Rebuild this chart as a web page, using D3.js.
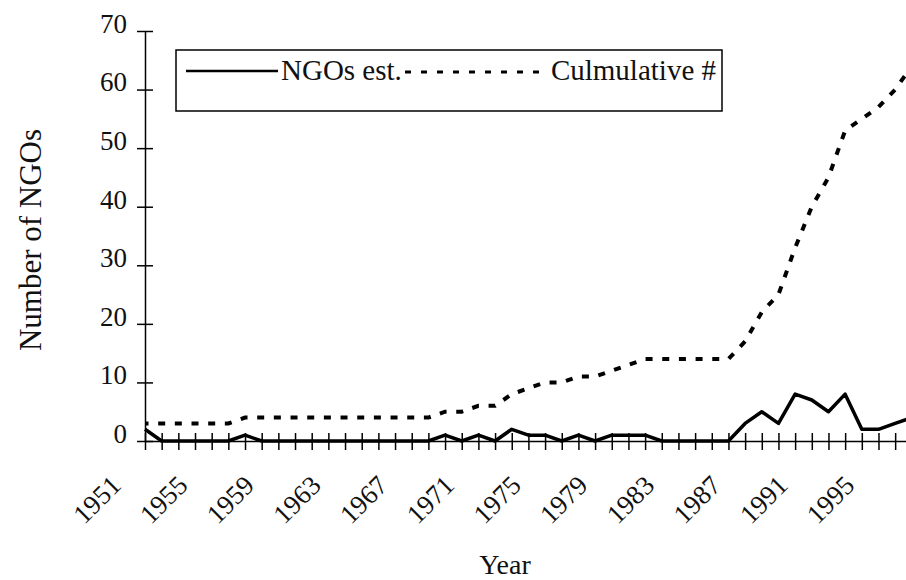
<!DOCTYPE html>
<html>
<head>
<meta charset="utf-8">
<script src="https://cdn.jsdelivr.net/npm/d3@7"></script>
<style>
  body { margin: 0; background: #fff; }
  svg { display: block; }
</style>
</head>
<body>
<svg id="chart" width="906" height="580"></svg>
<script>
// one point per year, 1951 .. 1997 (the last year is cut off by the frame)
var years = [1951, 1952, 1953, 1954, 1955, 1956, 1957, 1958, 1959, 1960,
             1961, 1962, 1963, 1964, 1965, 1966, 1967, 1968, 1969, 1970,
             1971, 1972, 1973, 1974, 1975, 1976, 1977, 1978, 1979, 1980,
             1981, 1982, 1983, 1984, 1985, 1986, 1987, 1988, 1989, 1990,
             1991, 1992, 1993, 1994, 1995, 1996, 1997];
var ngosEst = [2, 0, 0, 0, 0, 0, 1, 0, 0, 0,
               0, 0, 0, 0, 0, 0, 0, 0, 1, 0,
               1, 0, 2, 1, 1, 0, 1, 0, 1, 1,
               1, 0, 0, 0, 0, 0, 3, 5, 3, 8,
               7, 5, 8, 2, 2, 3, 4];
var cumulative = [3, 3, 3, 3, 3, 3, 4, 4, 4, 4,
                  4, 4, 4, 4, 4, 4, 4, 4, 5, 5,
                  6, 6, 8, 9, 10, 10, 11, 11, 12, 13,
                  14, 14, 14, 14, 14, 14, 17, 22, 25, 33,
                  40, 45, 53, 55, 57, 60, 64];
var labelYears = [1951, 1955, 1959, 1963, 1967, 1971, 1975, 1979, 1983, 1987, 1991, 1995];
var yTicks = [0, 10, 20, 30, 40, 50, 60, 70];
var seriesNames = ["NGOs est.", "Culmulative #"];

var serif = "Liberation Serif";

var svg = d3.select("#chart");
svg.append("rect").attr("width", 906).attr("height", 580).attr("fill", "#fff");

var x = d3.scaleLinear().domain([1951, 1997]).range([145, 145 + 46 * 16.67]);
var y = d3.scaleLinear().domain([0, 70]).range([441, 31]);

// y axis, ticks cross the line
var yAxis = svg.append("g")
    .attr("transform", "translate(145,0)")
    .call(d3.axisLeft(y).tickValues(yTicks).tickSize(8).tickSizeOuter(0).tickPadding(10));
yAxis.select(".domain").attr("stroke", "#000").attr("stroke-width", 1.5);
yAxis.selectAll(".tick line").attr("x1", 8).attr("stroke-width", 1.5);
yAxis.selectAll(".tick text")
    .style("font-family", serif)
    .style("font-size", "27px")
    .attr("fill", "#111")
    .attr("dy", "0.05em");

// x axis, a tick every year, a label every 4th year
var xAxis = svg.append("g")
    .attr("transform", "translate(0," + y(0) + ")")
    .call(d3.axisBottom(x).tickValues(years).tickSize(9).tickSizeOuter(0)
        .tickFormat(function (d) { return labelYears.indexOf(d) >= 0 ? d : ""; }));
xAxis.select(".domain").attr("stroke", "#000").attr("stroke-width", 1.5);
xAxis.selectAll(".tick line").attr("y1", -8).attr("stroke-width", 1.5);
xAxis.selectAll(".tick text")
    .style("font-family", serif)
    .style("font-size", "27px")
    .attr("fill", "#111")
    .attr("x", 0).attr("y", 0).attr("dy", 0)
    .attr("text-anchor", "end")
    .attr("transform", "translate(-23,46) rotate(-45)");

// lines
var line = d3.line()
    .x(function (d, i) { return x(years[i]); })
    .y(function (d) { return y(d); });

svg.append("path")
    .datum(cumulative)
    .attr("d", line)
    .attr("fill", "none")
    .attr("stroke", "#000")
    .attr("stroke-width", 4)
    .attr("stroke-dasharray", "7,9.67")
    .attr("stroke-dashoffset", 3.5);

svg.append("path")
    .datum(ngosEst)
    .attr("d", line)
    .attr("fill", "none")
    .attr("stroke", "#000")
    .attr("stroke-width", 3.5)
    .attr("stroke-linejoin", "round");

// axis titles
svg.append("text")
    .attr("transform", "translate(41,240) rotate(-90)")
    .attr("text-anchor", "middle")
    .style("font-family", serif)
    .style("font-size", "31px")
    .attr("fill", "#111")
    .text("Number of NGOs");

svg.append("text")
    .attr("x", 505).attr("y", 574)
    .attr("text-anchor", "middle")
    .style("font-family", serif)
    .style("font-size", "28px")
    .attr("fill", "#111")
    .text("Year");

// legend
var legend = svg.append("g");
legend.append("rect")
    .attr("x", 176).attr("y", 50).attr("width", 546).attr("height", 61)
    .attr("fill", "#fff").attr("stroke", "#000").attr("stroke-width", 1.5);
legend.append("line")
    .attr("x1", 186).attr("x2", 278).attr("y1", 71).attr("y2", 71)
    .attr("stroke", "#000").attr("stroke-width", 2.5);
legend.append("text")
    .attr("x", 281).attr("y", 80)
    .style("font-family", serif)
    .style("font-size", "29px")
    .attr("fill", "#111")
    .text(seriesNames[0]);
var cumText = legend.append("text")
    .attr("x", 716).attr("y", 80)
    .attr("text-anchor", "end")
    .style("font-family", serif)
    .style("font-size", "29px")
    .attr("fill", "#111")
    .text(seriesNames[1]);
var cumStart = 716 - cumText.node().getComputedTextLength();
legend.append("line")
    .attr("x1", 405).attr("x2", cumStart - 3).attr("y1", 72).attr("y2", 72)
    .attr("stroke", "#000").attr("stroke-width", 3)
    .attr("stroke-dasharray", "6,10");
</script>
</body>
</html>
